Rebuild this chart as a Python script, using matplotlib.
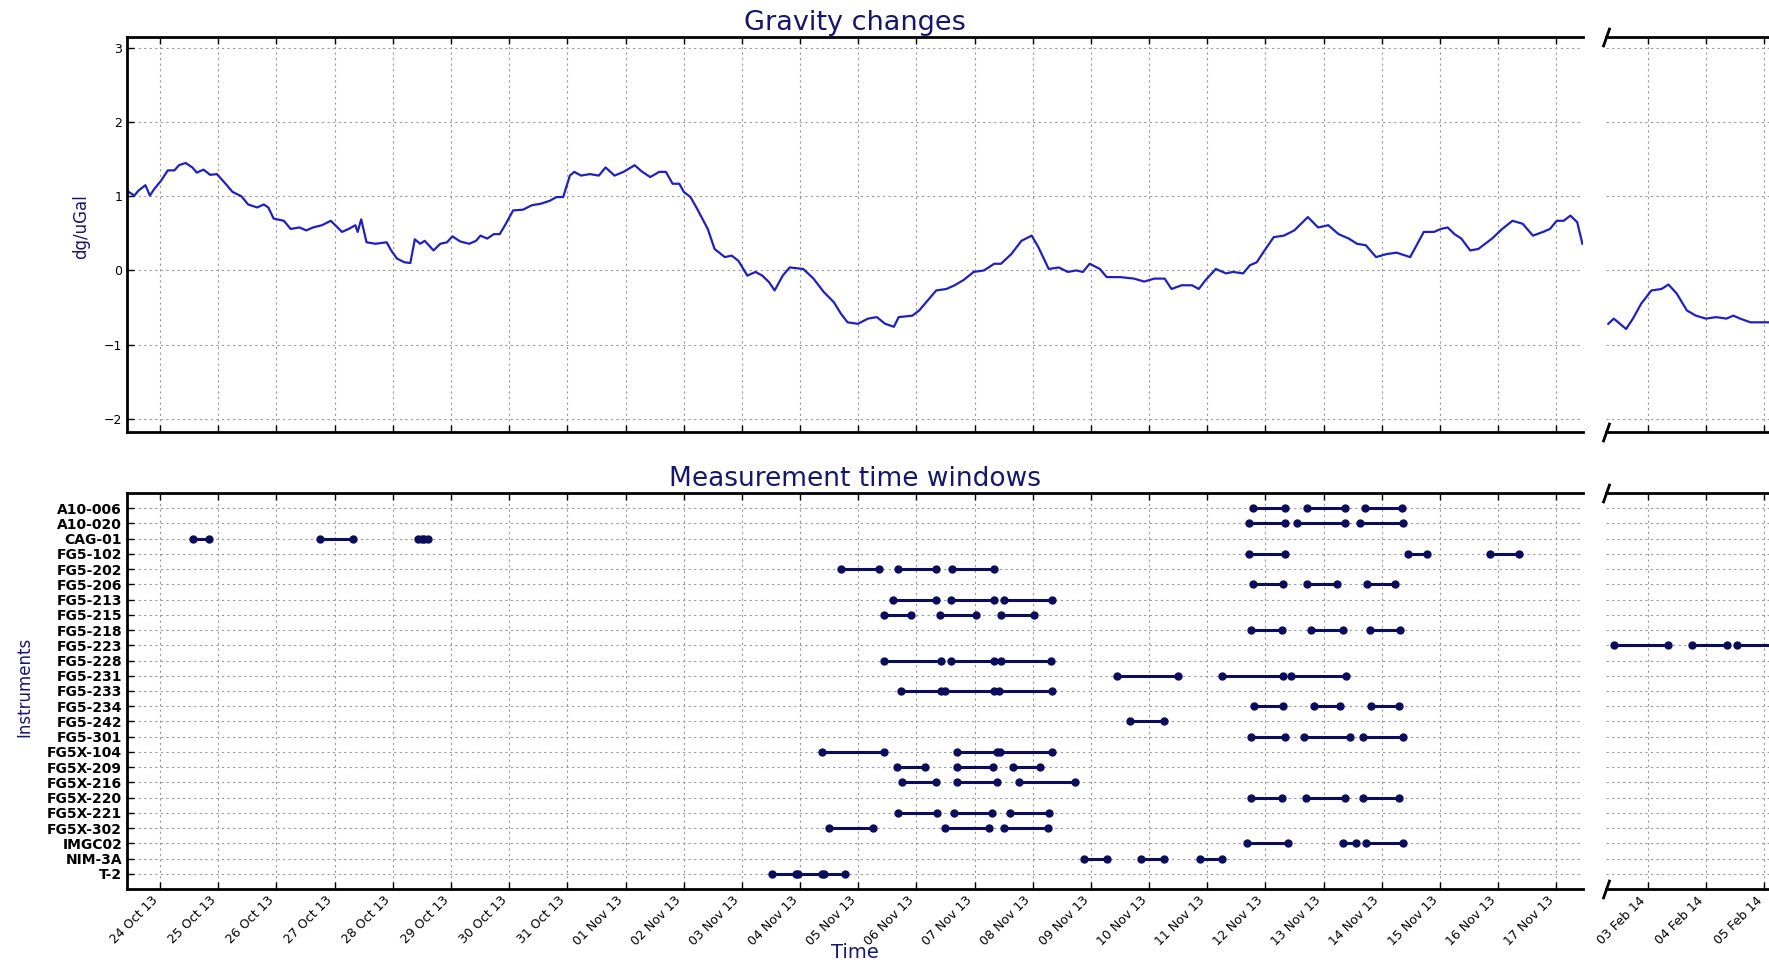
import datetime as dt
import matplotlib
matplotlib.use("Agg")
import matplotlib.pyplot as plt
import matplotlib.dates as mdates

# gravity series, days since 24 Oct 2013 00:00
g13_days = [-0.56, -0.445, -0.369, -0.253, -0.177, -0.10, 0.015, 0.131, 0.246, 0.323,
            0.438, 0.553, 0.630, 0.745, 0.860, 0.975, 1.091, 1.244, 1.398, 1.513,
            1.667, 1.782, 1.859, 1.951, 2.127, 2.243, 2.396, 2.512, 2.627, 2.780,
            2.934, 3.126, 3.241, 3.356, 3.395, 3.456, 3.548, 3.702, 3.894, 3.971,
            4.071, 4.201, 4.301, 4.378, 4.470, 4.547, 4.700, 4.816, 4.931, 5.023,
            5.161, 5.315, 5.430, 5.507, 5.622, 5.737, 5.837, 5.929, 6.068, 6.237,
            6.390, 6.544, 6.698, 6.813, 6.928, 7.043, 7.120, 7.235, 7.389, 7.542,
            7.657, 7.811, 7.965, 8.157, 8.272, 8.425, 8.579, 8.694, 8.810, 8.925,
            9.002, 9.117, 9.232, 9.414, 9.531, 9.707, 9.824, 9.941, 10.094, 10.234,
            10.352, 10.469, 10.563, 10.703, 10.821, 11.055, 11.231, 11.407, 11.583, 11.700,
            11.817, 11.993, 12.169, 12.321, 12.462, 12.614, 12.696, 12.931, 13.048, 13.200,
            13.341, 13.517, 13.658, 13.810, 13.986, 14.162, 14.338, 14.455, 14.631, 14.807,
            14.982, 15.100, 15.275, 15.451, 15.604, 15.744, 15.862, 15.979, 16.155, 16.272,
            16.506, 16.741, 16.917, 17.093, 17.268, 17.386, 17.562, 17.737, 17.855, 17.972,
            18.148, 18.324, 18.441, 18.617, 18.734, 18.851, 18.969, 19.144, 19.320, 19.496,
            19.730, 19.906, 20.082, 20.258, 20.434, 20.574, 20.727, 20.903, 21.079, 21.254,
            21.489, 21.723, 21.899, 22.016, 22.134, 22.251, 22.368, 22.521, 22.661, 22.896,
            23.072, 23.247, 23.423, 23.599, 23.775, 23.892, 24.009, 24.127, 24.244, 24.361,
            24.45]
g13_vals = [1.07, 1.01, 1.08, 1.15, 1.01, 1.10, 1.21, 1.35, 1.35, 1.42,
            1.45, 1.39, 1.32, 1.36, 1.29, 1.30, 1.20, 1.06, 1.00, 0.89,
            0.85, 0.89, 0.85, 0.70, 0.67, 0.56, 0.58, 0.54, 0.58, 0.61,
            0.67, 0.52, 0.56, 0.61, 0.52, 0.69, 0.38, 0.36, 0.38, 0.27,
            0.16, 0.11, 0.10, 0.42, 0.36, 0.40, 0.27, 0.36, 0.38, 0.46,
            0.39, 0.36, 0.40, 0.47, 0.43, 0.49, 0.49, 0.61, 0.81, 0.82,
            0.88, 0.90, 0.94, 0.99, 0.99, 1.28, 1.33, 1.28, 1.30, 1.28,
            1.39, 1.28, 1.33, 1.42, 1.34, 1.26, 1.33, 1.33, 1.17, 1.17,
            1.06, 0.99, 0.83, 0.56, 0.29, 0.18, 0.20, 0.13, -0.07, -0.02,
            -0.07, -0.16, -0.27, -0.07, 0.04, 0.02, -0.11, -0.29, -0.43, -0.58,
            -0.70, -0.72, -0.65, -0.63, -0.72, -0.76, -0.63, -0.61, -0.54, -0.40,
            -0.27, -0.25, -0.20, -0.13, -0.02, 0.00, 0.09, 0.09, 0.22, 0.40,
            0.47, 0.31, 0.02, 0.04, -0.02, 0.00, -0.02, 0.09, 0.02, -0.09,
            -0.09, -0.11, -0.15, -0.11, -0.11, -0.25, -0.20, -0.20, -0.25, -0.13,
            0.02, -0.04, -0.02, -0.04, 0.07, 0.11, 0.25, 0.45, 0.47, 0.54,
            0.72, 0.58, 0.61, 0.49, 0.43, 0.36, 0.34, 0.18, 0.22, 0.24,
            0.18, 0.52, 0.52, 0.56, 0.58, 0.49, 0.43, 0.27, 0.29, 0.43,
            0.56, 0.67, 0.63, 0.47, 0.52, 0.56, 0.67, 0.67, 0.74, 0.65,
            0.36]

# gravity series, days since 03 Feb 2014 00:00
g14_days = [-0.68, -0.586, -0.375, -0.258, -0.117, 0.059, 0.234, 0.352, 0.492, 0.668,
            0.821, 0.996, 1.172, 1.348, 1.465, 1.583, 1.759, 1.993, 2.087]
g14_vals = [-0.72, -0.65, -0.79, -0.65, -0.45, -0.27, -0.25, -0.19, -0.31, -0.54,
            -0.61, -0.65, -0.63, -0.65, -0.61, -0.65, -0.70, -0.70, -0.70]

instruments = ["A10-006", "A10-020", "CAG-01", "FG5-102", "FG5-202", "FG5-206",
               "FG5-213", "FG5-215", "FG5-218", "FG5-223", "FG5-228", "FG5-231",
               "FG5-233", "FG5-234", "FG5-242", "FG5-301", "FG5X-104", "FG5X-209",
               "FG5X-216", "FG5X-220", "FG5X-221", "FG5X-302", "IMGC02", "NIM-3A", "T-2"]

# measurement windows (start, end) in days since 24 Oct 2013, one list per instrument
win13 = [
    [(18.79, 19.34), (19.71, 20.36), (20.71, 21.34)],
    [(18.72, 19.34), (19.54, 20.36), (20.63, 21.36)],
    [(0.57, 0.84), (2.75, 3.31), (4.43, 4.50), (4.54, 4.61)],
    [(18.72, 19.34), (21.45, 21.78), (22.86, 23.36)],
    [(11.70, 12.36), (12.69, 13.33), (13.61, 14.33)],
    [(18.79, 19.31), (19.71, 20.23), (20.74, 21.23)],
    [(12.59, 13.34), (13.60, 14.33), (14.51, 15.34)],
    [(12.44, 12.90), (13.41, 14.02), (14.45, 15.02)],
    [(18.75, 19.28), (19.78, 20.33), (20.79, 21.31)],
    [],
    [(12.45, 13.43), (13.59, 14.33), (14.45, 15.32)],
    [(16.45, 17.49), (18.26, 19.30), (19.44, 20.39)],
    [(12.74, 13.43), (13.49, 14.33), (14.42, 15.34)],
    [(18.81, 19.31), (19.84, 20.29), (20.81, 21.29)],
    [(16.67, 17.26)],
    [(18.75, 19.33), (19.67, 20.45), (20.67, 21.36)],
    [(11.37, 12.45), (13.69, 14.38), (14.43, 15.34)],
    [(12.67, 13.14), (13.69, 14.32), (14.66, 15.13)],
    [(12.75, 13.34), (13.69, 14.38), (14.76, 15.73)],
    [(18.75, 19.29), (19.70, 20.36), (20.68, 21.29)],
    [(12.68, 13.35), (13.64, 14.30), (14.61, 15.28)],
    [(11.50, 12.26), (13.49, 14.25), (14.50, 15.26)],
    [(18.69, 19.39), (20.33, 20.56), (20.73, 21.36)],
    [(15.88, 16.27), (16.87, 17.26), (17.87, 18.26)],
    [(10.51, 10.93), (10.96, 11.38), (11.41, 11.78)],
]
# windows in days since 03 Feb 2014
win14 = {"FG5-223": [(-0.58, 0.35), (0.76, 1.35), (1.52, 2.50)]}

base13 = mdates.date2num(dt.datetime(2013, 10, 24))
base14 = mdates.date2num(dt.datetime(2014, 2, 3))

NAVY = "#16166e"
LINE = "#2020c0"
SEG = "#0c0c5c"

fig = plt.figure(figsize=(17.69, 9.64), dpi=100)

xl, wl = 127 / 1769, 1456 / 1769
xr, wr = 1606 / 1769, 208 / 1769
yt, ht = 1 - 432 / 964, 395 / 964
yb, hb = 1 - 889 / 964, 396 / 964

ax_tl = fig.add_axes([xl, yt, wl, ht])
ax_tr = fig.add_axes([xr, yt, wr, ht])
ax_bl = fig.add_axes([xl, yb, wl, hb])
ax_br = fig.add_axes([xr, yb, wr, hb])

lim13 = (base13 - 0.57, base13 + 24.46)
lim14 = (base14 - 0.72, base14 + 2.85)

ax_tl.plot([base13 + d for d in g13_days], g13_vals, color=LINE, lw=1.6)
ax_tr.plot([base14 + d for d in g14_days], g14_vals, color=LINE, lw=1.6)

rows = list(range(len(instruments) - 1, -1, -1))
for y, segs in zip(rows, win13):
    for s, e in segs:
        ax_bl.plot([base13 + s, base13 + e], [y, y], color=SEG, lw=2.2,
                   marker="o", ms=5)
for name, segs in win14.items():
    y = rows[instruments.index(name)]
    for s, e in segs:
        ax_br.plot([base14 + s, base14 + e], [y, y], color=SEG, lw=2.2,
                   marker="o", ms=5)

for ax in (ax_tl, ax_tr, ax_bl, ax_br):
    ax.xaxis.set_major_locator(mdates.DayLocator())
    ax.xaxis.set_major_formatter(mdates.DateFormatter("%d %b %y"))
    ax.grid(True, color="0.6", linestyle=(0, (2, 3)), linewidth=0.8)
    ax.tick_params(direction="in", top=True, length=5, width=1)
    for sp in ax.spines.values():
        sp.set_linewidth(2)

for ax in (ax_tl, ax_tr):
    ax.set_ylim(-2.18, 3.15)
    ax.tick_params(labelbottom=False)
for ax in (ax_bl, ax_br):
    ax.set_ylim(-1, 25)
    ax.set_yticks(rows)
    for lab in ax.get_xticklabels():
        lab.set_rotation(45)
        lab.set_ha("right")
    ax.tick_params(axis="x", labelsize=9)

ax_tl.set_xlim(*lim13)
ax_bl.set_xlim(*lim13)
ax_tr.set_xlim(*lim14)
ax_br.set_xlim(*lim14)

ax_tl.set_yticks([-2, -1, 0, 1, 2, 3])
ax_tl.tick_params(axis="y", labelsize=9)
ax_bl.set_yticklabels(instruments, fontsize=10, fontweight="bold")

for ax in (ax_tl, ax_bl):
    ax.spines["right"].set_visible(False)
    ax.tick_params(right=False)
for ax in (ax_tr, ax_br):
    ax.spines["left"].set_visible(False)
    ax.tick_params(left=False, right=False, labelleft=False)
    # break marks
    ax.plot([0, 0], [0, 1], transform=ax.transAxes, linestyle="none",
            marker=[(-0.35, -1), (0.35, 1)], ms=14, mew=2, color="k", clip_on=False)

ax_tl.set_title("Gravity changes", color=NAVY, fontsize=19.5, pad=5)
ax_bl.set_title("Measurement time windows", color=NAVY, fontsize=19, pad=5)
ax_tl.set_ylabel("dg/uGal", color=NAVY, fontsize=12)
ax_tl.yaxis.set_label_coords(-0.0254, 0.52)
ax_bl.set_ylabel("Instruments", color=NAVY, fontsize=12)
ax_bl.yaxis.set_label_coords(-0.064, 0.51)
ax_bl.set_xlabel("Time", color=NAVY, fontsize=14)
ax_bl.xaxis.set_label_coords(0.5, -0.136)

fig.savefig("out.png", dpi=100)
